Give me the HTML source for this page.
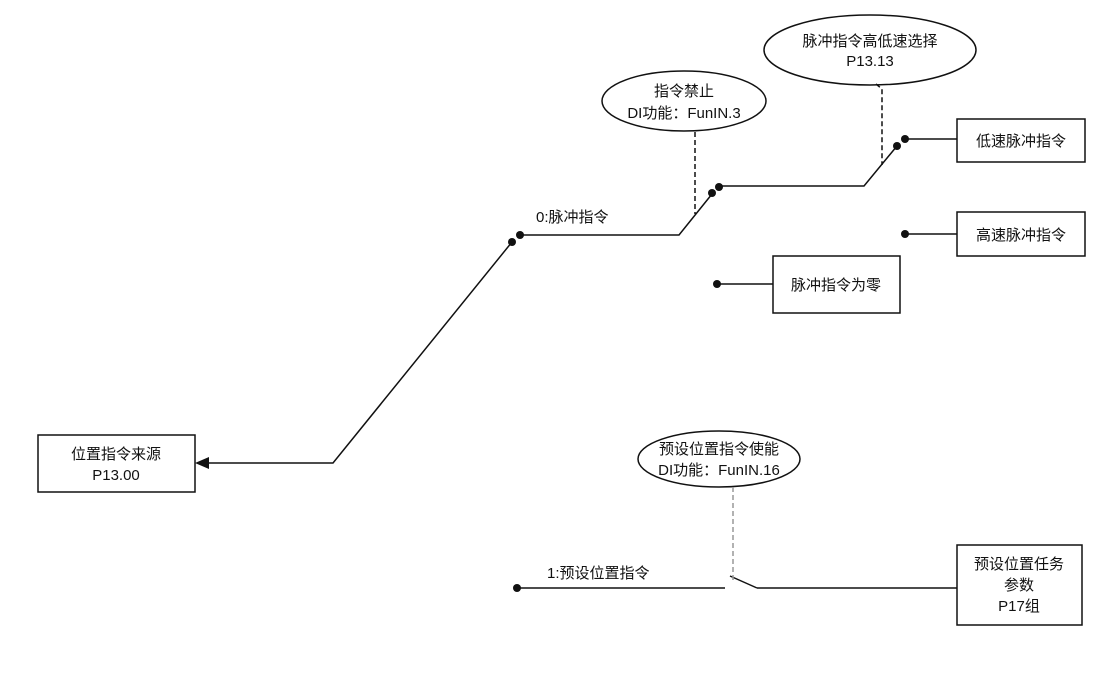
<!DOCTYPE html>
<html><head><meta charset="utf-8"><style>
html,body{margin:0;padding:0;background:#fff;}
svg text{font-family:"Liberation Sans","Noto Sans CJK SC",sans-serif;font-size:15px;fill:#111;}
</style></head><body>
<svg width="1115" height="677" viewBox="0 0 1115 677" xmlns="http://www.w3.org/2000/svg">
<g fill="none" stroke="#111" stroke-width="1.5">
<rect x="38" y="435" width="157" height="57"/>
<rect x="957" y="119" width="128" height="43"/>
<rect x="957" y="212" width="128" height="44"/>
<rect x="773" y="256" width="127" height="57"/>
<rect x="957" y="545" width="125" height="80"/>
<ellipse cx="684" cy="101" rx="82" ry="30"/>
<ellipse cx="870" cy="50" rx="106" ry="35"/>
<ellipse cx="719" cy="459" rx="81" ry="28"/>
<polyline points="207,463 333,463 512,242"/>
<polyline points="520,235 679,235 712,194"/>
<polyline points="720,186 864,186 897,146"/>
<line x1="905" y1="139" x2="957" y2="139"/>
<line x1="905" y1="234" x2="957" y2="234"/>
<line x1="717" y1="284" x2="773" y2="284"/>
<line x1="517" y1="588" x2="725" y2="588"/>
<line x1="730" y1="576" x2="757" y2="588"/>
<line x1="757" y1="588" x2="957" y2="588"/>
<line x1="695" y1="132" x2="695" y2="214" stroke-dasharray="5,3"/>
<polyline points="876,84 882,89 882,165" stroke-dasharray="5,3"/>
<line x1="733" y1="487" x2="733" y2="580" stroke="#999" stroke-dasharray="5,3"/>
</g>
<polygon points="195,463 209,457 209,469" fill="#111"/>
<g fill="#111">
<circle cx="512" cy="242" r="4"/><circle cx="520" cy="235" r="4"/>
<circle cx="712" cy="193" r="4"/><circle cx="719" cy="187" r="4"/>
<circle cx="897" cy="146" r="4"/><circle cx="905" cy="139" r="4"/>
<circle cx="905" cy="234" r="4"/>
<circle cx="717" cy="284" r="4"/>
<circle cx="517" cy="588" r="4"/>
</g>
<g text-anchor="middle">
<text x="116" y="459">位置指令来源</text>
<text x="116" y="480">P13.00</text>
<text x="1021" y="146">低速脉冲指令</text>
<text x="1021" y="240">高速脉冲指令</text>
<text x="836" y="290">脉冲指令为零</text>
<text x="1019" y="569">预设位置任务</text>
<text x="1019" y="590">参数</text>
<text x="1019" y="611">P17组</text>
<text x="684" y="96">指令禁止</text>
<text x="684" y="118">DI功能：FunIN.3</text>
<text x="870" y="46">脉冲指令高低速选择</text>
<text x="870" y="66">P13.13</text>
<text x="719" y="454">预设位置指令使能</text>
<text x="719" y="475">DI功能：FunIN.16</text>
</g>
<text x="536" y="222">0:脉冲指令</text>
<text x="547" y="578">1:预设位置指令</text>
</svg>
</body></html>
